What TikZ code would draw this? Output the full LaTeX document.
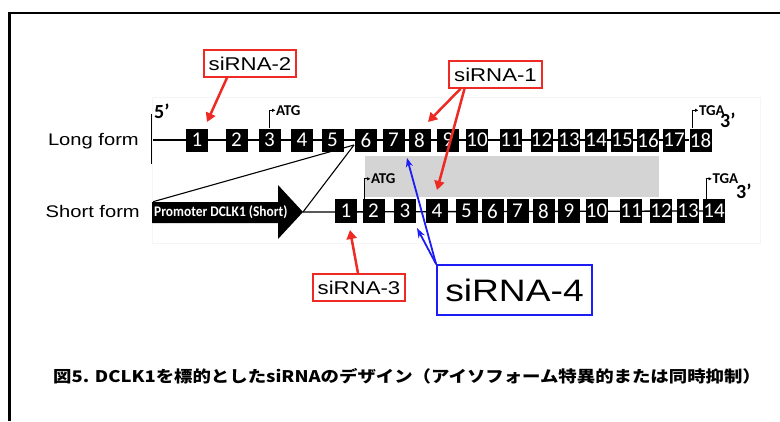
\documentclass[tikz,border=0pt]{standalone}
\usepackage{fontspec}
\usetikzlibrary{arrows.meta,backgrounds}
\newfontfamily\lblfont[FakeStretch=1.2]{Liberation Sans}
\newfontfamily\exfont{Carlito}
\newfontfamily\capfont{Noto Sans CJK JP}
\definecolor{sired}{HTML}{EE2A24}
\definecolor{siblue}{HTML}{1C1CF5}
\definecolor{greyband}{HTML}{D4D4D4}
\begin{document}
\begin{tikzpicture}[x=1pt,y=-1pt,
  exonL/.style={fill=black,minimum width=22pt,minimum height=23pt,inner sep=0pt,text=white,font=\exfont\fontsize{21}{21}\selectfont},
  exonS/.style={exonL,minimum height=24pt},
  gline/.style={line width=1.3pt},
  rbox/.style={draw=sired,line width=1.5pt,fill=white,inner sep=0pt,font=\lblfont\fontsize{18.5}{20}\selectfont},
  rarrow/.style={draw=sired,line width=2.5pt,-{Triangle[length=9pt,width=10pt]}},
  barrow/.style={draw=siblue,line width=1.8pt,-{Stealth[length=9pt,width=7pt]}},
  marker/.style={line width=1pt,-{Latex[length=3.5pt,width=3.5pt]}},
  smalltxt/.style={font=\exfont\bfseries\fontsize{15}{15}\selectfont,inner sep=0pt,anchor=west},
  endtxt/.style={font=\exfont\bfseries\fontsize{20}{20}\selectfont,inner sep=0pt,anchor=west},
  formlbl/.style={font=\lblfont\fontsize{16.8}{18}\selectfont,inner sep=0pt,anchor=east}
]
\useasboundingbox (0,0) rectangle (780,421);
% outer frame
\draw[line width=2.2pt] (9.5,421) -- (9.5,13) -- (780,13);
% faint figure frame
\draw[black!4,line width=1pt] (152,97) rectangle (760,243);
% grey band
\fill[greyband] (365,156) rectangle (659,197);

% row labels
\node[formlbl] (lf) at (139,141) {Long form};
\node[formlbl] (sf) at (140,211) {Short form};

% long form exons
\foreach \n/\x in {1/197,2/236.5,3/269.5,4/302,5/332.5,6/366,7/393.5,8/419.5,9/448,10/477,11/511,12/541.5,13/569,14/596,15/622,16/648,17/674,18/700.5}
  \node[exonL] (L\n) at (\x,140) {\n};
% short form exons
\foreach \n/\x in {1/346,2/373.5,3/405,4/437,5/466.5,6/492.5,7/517.5,8/543.5,9/569,10/596.5,11/631,12/661,13/688,14/714}
  \node[exonS] (S\n) at (\x,211) {\n};

% promoter arrow
\coordinate (pstart) at (152,202);
\coordinate (ptip) at (303,212);
\fill (pstart) -- (278,202) -- (278,185) -- (ptip) -- (278,239) -- (278,223) -- (152,223) -- cycle;
\node[font=\exfont\bfseries\fontsize{14}{14}\selectfont,text=white,inner sep=0pt,anchor=west] (prom) at (154,212.5) {\scalebox{0.96}[1.05]{Promoter DCLK1 (Short)}};

\coordinate (tickT) at (152,114);
\coordinate (tickB) at (152,164);
\coordinate (tickM) at (152,140);
\coordinate (join) at (354,145);
\begin{scope}[on background layer]
  \draw[gline] (tickT) -- (tickB);
  \draw[gline] (tickM) -- (L18.west);
  \draw[gline] (ptip) -- (S14.west);
  \draw[line width=1.1pt] (pstart) -- (join);
  \draw[line width=1.1pt] (ptip) -- (join);
\end{scope}
\node[endtxt] (five) at (154,111) {5’};

% start / stop markers
\draw[marker] (L3.north) -- ++(0,-18) coordinate (a1) -- ++(6,0) node[smalltxt] (atgL) {ATG};
\draw[marker] ([xshift=-8pt]L18.north) -- ++(0,-18) -- ++(6,0) node[smalltxt] (tgaL) {TGA};
\node[endtxt] (threeL) at (720,120) {3’};
\draw[marker] ([xshift=-9pt]S2.north) -- ++(0,-20) -- ++(6,0) node[smalltxt] (atgS) {ATG};
\draw[marker] ([xshift=-8pt]S14.north) -- ++(0,-20) -- ++(6,0) node[smalltxt] (tgaS) {TGA};
\node[endtxt] (threeS) at (736,191) {3’};

% siRNA labels
\node[rbox,minimum width=92pt,minimum height=27pt] (s2) at (250,63.5) {siRNA-2};
\node[rbox,minimum width=93pt,minimum height=27pt] (s1) at (495.5,74.5) {siRNA-1};
\node[rbox,minimum width=92pt,minimum height=27pt] (s3) at (359,287.5) {siRNA-3};
\node[draw=siblue,line width=1.8pt,fill=white,inner sep=0pt,minimum width=155pt,minimum height=50pt,font=\lblfont\fontsize{31}{32}\selectfont] (s4) at (514.5,290) {siRNA-4};

% arrows
\coordinate (t2) at (207,122);
\coordinate (t1a) at (428,122);
\coordinate (t1b) at (437,190);
\coordinate (t3) at (350,230);
\coordinate (t4a) at (407,158);
\coordinate (t4b) at (417,228);
\draw[rarrow] ([xshift=-23pt]s2.south) -- (t2);
\draw[rarrow] ([xshift=-35pt]s1.south) -- (t1a);
\draw[rarrow] ([xshift=-31pt]s1.south) -- (t1b);
\draw[rarrow] ([xshift=-1pt]s3.north) -- (t3);
\draw[barrow] (s4.north west) -- (t4a);
\draw[draw=siblue,line width=1.8pt,-{Stealth[open,length=10pt,width=7pt]}] (s4.north west) -- (t4b);

% caption
\node[font=\capfont\bfseries\fontsize{16}{16}\selectfont,inner sep=0pt,anchor=west] (cap) at (53,376) {\scalebox{1.15}[1]{図5. DCLK1を標的としたsiRNAのデザイン（アイソフォーム特異的または同時抑制）}};
\end{tikzpicture}
\end{document}
